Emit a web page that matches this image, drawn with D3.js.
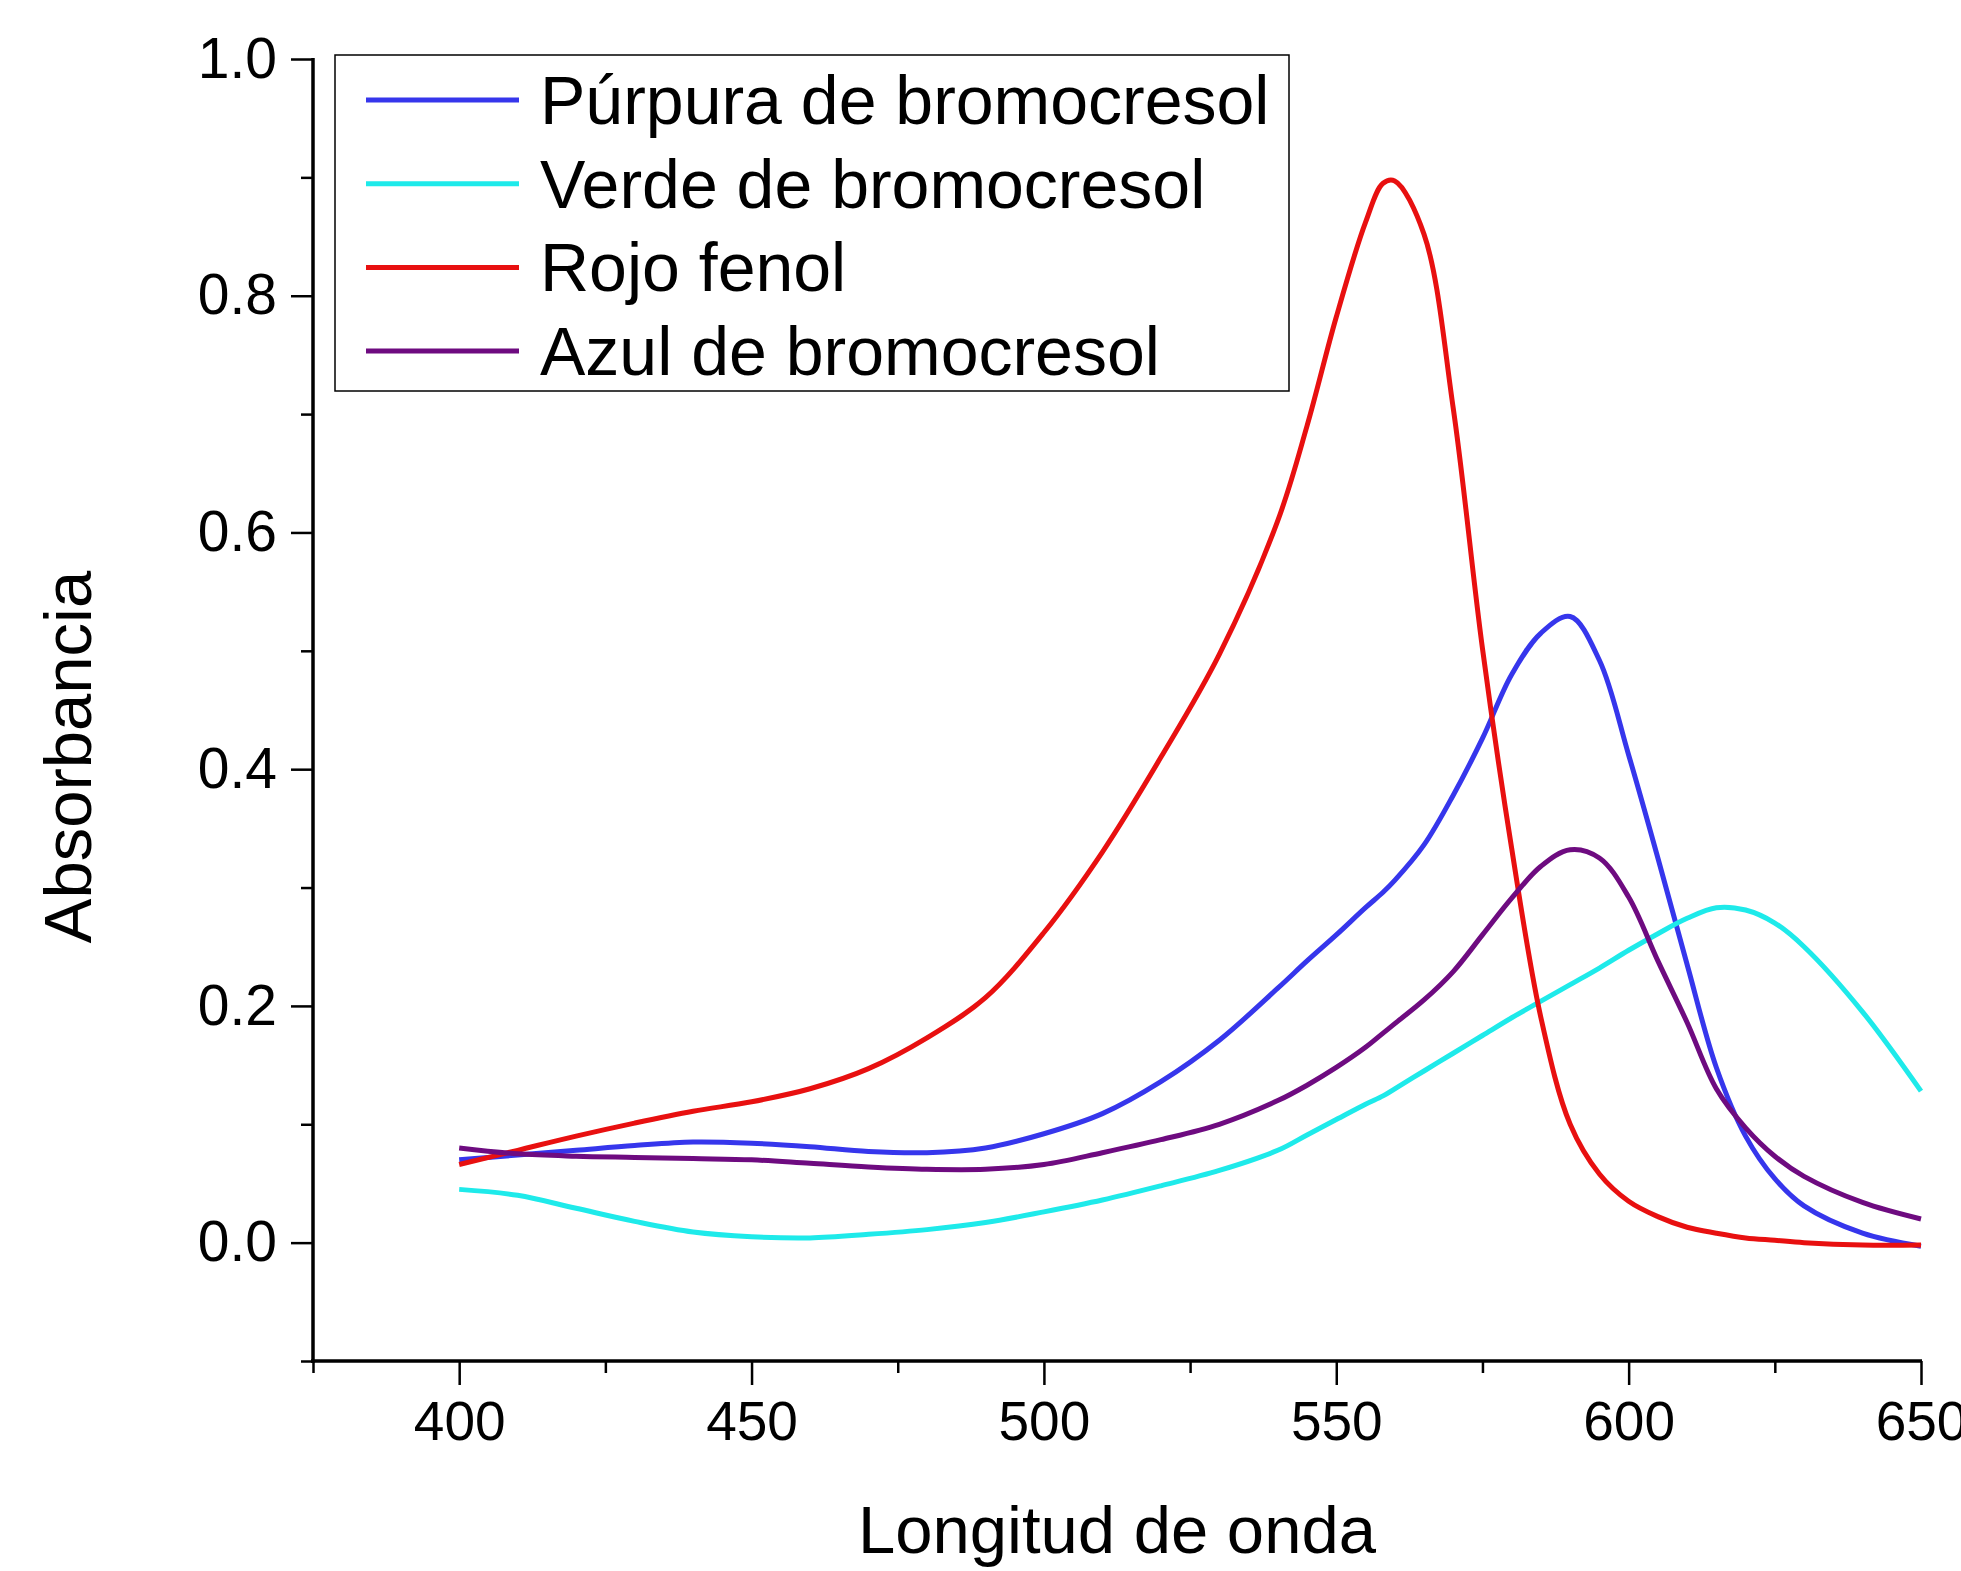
<!DOCTYPE html>
<html>
<head>
<meta charset="utf-8">
<script src="https://cdn.jsdelivr.net/npm/d3@7"></script>
<style>
  body { margin: 0; background: #fff; }
  text { font-family: "Liberation Sans", Arial, sans-serif; fill: #000; }
</style>
</head>
<body>
<div id="chart"></div>
<script>
// wavelengths (nm) shared by every series
let wavelength = [400, 410, 420, 430, 440, 450, 460, 470, 480, 490, 500, 510, 520, 530, 540, 545, 550, 555, 558, 560, 565, 570, 575, 580, 585, 590, 595, 600, 605, 610, 615, 620, 625, 630, 640, 650];

let purpura = [0.070, 0.074, 0.078, 0.082, 0.085, 0.084, 0.081, 0.077, 0.076, 0.080, 0.092, 0.109, 0.136, 0.171, 0.215, 0.238, 0.260, 0.283, 0.296, 0.306, 0.336, 0.378, 0.426, 0.480, 0.515, 0.529, 0.492, 0.412, 0.325, 0.235, 0.148, 0.090, 0.054, 0.031, 0.008, -0.003];
let verde   = [0.045, 0.040, 0.029, 0.018, 0.009, 0.005, 0.004, 0.007, 0.011, 0.017, 0.026, 0.036, 0.048, 0.061, 0.078, 0.091, 0.104, 0.117, 0.124, 0.130, 0.145, 0.160, 0.175, 0.190, 0.204, 0.218, 0.232, 0.247, 0.261, 0.274, 0.283, 0.281, 0.270, 0.250, 0.195, 0.128];
let rojo    = [0.066, 0.078, 0.090, 0.101, 0.111, 0.119, 0.130, 0.147, 0.173, 0.207, 0.262, 0.330, 0.410, 0.497, 0.610, 0.690, 0.782, 0.862, 0.895, 0.897, 0.852, 0.705, 0.502, 0.333, 0.190, 0.100, 0.058, 0.035, 0.022, 0.013, 0.008, 0.004, 0.002, 0.000, -0.002, -0.002];
let azul    = [0.080, 0.075, 0.073, 0.072, 0.071, 0.070, 0.067, 0.064, 0.062, 0.062, 0.066, 0.076, 0.087, 0.100, 0.120, 0.133, 0.148, 0.165, 0.177, 0.185, 0.205, 0.229, 0.260, 0.291, 0.318, 0.332, 0.325, 0.292, 0.238, 0.186, 0.130, 0.097, 0.073, 0.056, 0.034, 0.020];

let seriesNames = ["Púrpura de bromocresol", "Verde de bromocresol", "Rojo fenol", "Azul de bromocresol"];
let seriesColors = ["#3636ec", "#1eeaea", "#e81010", "#6e0b80"];
let seriesValues = [purpura, verde, rojo, azul];

let xMajor = [400, 450, 500, 550, 600, 650];
let xMinor = [375, 425, 475, 525, 575, 625];
let yMajor = [0.0, 0.2, 0.4, 0.6, 0.8, 1.0];
let yMinor = [-0.1, 0.1, 0.3, 0.5, 0.7, 0.9];

let W = 1961, H = 1571;

var svg = d3.select("#chart")
    .append("svg")
        .attr("width", W)
        .attr("height", H);

var x = d3.scaleLinear().domain([375, 650]).range([313, 1921]);
var y = d3.scaleLinear().domain([-0.1, 1.0]).range([1361, 59]);

// curves
var line = d3.line()
    .x(function (d) { return x(d[0]); })
    .y(function (d) { return y(d[1]); })
    .curve(d3.curveCatmullRom.alpha(0.5));

seriesValues.forEach(function (vals, i) {
    svg.append("path")
        .datum(wavelength.map(function (w, j) { return [w, vals[j]]; }))
        .attr("fill", "none")
        .attr("stroke", seriesColors[i])
        .attr("stroke-width", 5)
        .attr("stroke-linejoin", "round")
        .attr("d", line);
});

// x axis
var gx = svg.append("g").attr("transform", "translate(0," + y(-0.1) + ")");
gx.call(d3.axisBottom(x).tickValues(xMajor).tickSize(24).tickPadding(16).tickFormat(d3.format("d")));
gx.append("g").call(d3.axisBottom(x).tickValues(xMinor).tickSize(12).tickFormat(""));
gx.selectAll(".domain").remove();
gx.append("line")
    .attr("x1", x(375) - 2).attr("x2", x(650) + 1)
    .attr("stroke", "#000").attr("stroke-width", 3.5);

// y axis
var gy = svg.append("g").attr("transform", "translate(" + x(375) + ",0)");
gy.call(d3.axisLeft(y).tickValues(yMajor).tickSize(22).tickPadding(14).tickFormat(d3.format(".1f")));
gy.append("g").call(d3.axisLeft(y).tickValues(yMinor).tickSize(12).tickFormat(""));
gy.selectAll(".domain").remove();
gy.append("line")
    .attr("y1", y(1.0) - 1).attr("y2", y(-0.1) + 2)
    .attr("stroke", "#000").attr("stroke-width", 3.5);

svg.selectAll(".tick line").attr("stroke", "#000").attr("stroke-width", 2.5);
svg.selectAll(".tick text")
    .style("font-family", "'Liberation Sans', Arial, sans-serif")
    .style("font-size", "55px");
gy.selectAll(".tick text").style("font-size", "57px");
gx.selectAll(".tick text").attr("dy", "0.71em");

// axis titles
svg.append("text")
    .attr("x", (x(375) + x(650)) / 2)
    .attr("y", 1553)
    .attr("text-anchor", "middle")
    .style("font-size", "67px")
    .text("Longitud de onda");

svg.append("text")
    .attr("transform", "translate(91,757) rotate(-90)")
    .attr("text-anchor", "middle")
    .style("font-size", "67px")
    .text("Absorbancia");

// legend
var legend = svg.append("g");
legend.append("rect")
    .attr("x", 335).attr("y", 55)
    .attr("width", 954).attr("height", 336)
    .attr("fill", "#fff")
    .attr("stroke", "#000").attr("stroke-width", 1.5);

seriesNames.forEach(function (name, i) {
    let cy = 100 + i * 83.7;
    legend.append("line")
        .attr("x1", 366).attr("x2", 519)
        .attr("y1", cy).attr("y2", cy)
        .attr("stroke", seriesColors[i])
        .attr("stroke-width", 5);
    legend.append("text")
        .attr("x", 540)
        .attr("y", cy)
        .attr("dy", "0.35em")
        .style("font-size", "68px")
        .text(name);
});
</script>
</body>
</html>
